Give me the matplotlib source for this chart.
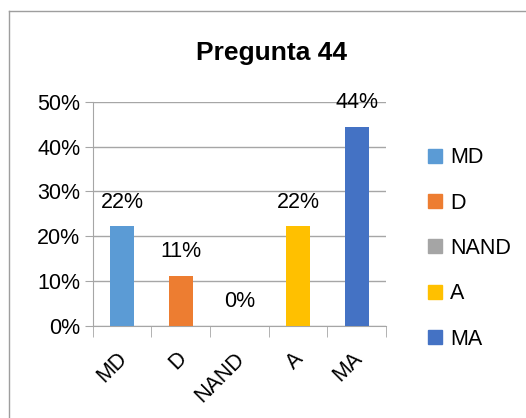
import matplotlib
matplotlib.use("Agg")
import matplotlib.pyplot as plt
from matplotlib.lines import Line2D
from matplotlib.ticker import PercentFormatter
from matplotlib.transforms import ScaledTranslation

CATEGORIES = ["MD", "D", "NAND", "A", "MA"]
VALUES = [22.2, 11.1, 0.0, 22.2, 44.4]
LABELS = ["22%", "11%", "0%", "22%", "44%"]
COLORS = ["#5B9BD5", "#ED7D31", "#A5A5A5", "#FFC000", "#4472C4"]

plt.rcParams["font.family"] = ["Liberation Sans", "DejaVu Sans"]

W, H = 526, 418
fig = plt.figure(figsize=(W / 100, H / 100), dpi=100)
ax = fig.add_axes([92.7 / W, 92 / H, (386 - 92.7) / W, (326 - 101.7) / H])

x = list(range(len(CATEGORIES)))
ax.bar(x, VALUES, width=0.41, color=COLORS, zorder=3)

for xi, v, lab in zip(x, VALUES, LABELS):
    ax.annotate(lab, (xi, v), xytext=(0, 17.5), textcoords="offset points",
                ha="center", va="center", fontsize=15.5, zorder=4)

ax.set_xlim(-0.5, 4.5)
ax.set_ylim(0, 50)
ax.set_yticks(range(0, 51, 10))
ax.yaxis.set_major_formatter(PercentFormatter(decimals=0))
ax.yaxis.grid(True, color="#A6A6A6", linewidth=1, zorder=0)
ax.tick_params(axis="y", length=6, color="#A6A6A6", labelsize=15.5, pad=3)

ax.set_xticks(x)
ax.set_xticklabels(CATEGORIES, rotation=45, ha="right", va="top",
                   rotation_mode="anchor", fontsize=15.5)
ax.tick_params(axis="x", which="major", length=0, pad=16)
shift = ScaledTranslation(-5 / 100, 0, fig.dpi_scale_trans)
for lbl in ax.get_xticklabels():
    lbl.set_transform(lbl.get_transform() + shift)
ax.set_xticks([i - 0.5 for i in range(len(CATEGORIES) + 1)], minor=True)
ax.tick_params(axis="x", which="minor", length=8, color="#A6A6A6")

for s in ["top", "right"]:
    ax.spines[s].set_visible(False)
for s in ["left", "bottom"]:
    ax.spines[s].set_color("#A6A6A6")

fig.text(272 / W, 1 - 53 / H, "Pregunta 44", ha="center", va="center",
         fontsize=19, fontweight="bold")

handles = [Line2D([], [], marker="s", linestyle="none", markersize=9.6,
                  markerfacecolor=c, markeredgecolor=c) for c in COLORS]
fig.legend(handles, CATEGORIES, loc="center left",
           bbox_to_anchor=(409 / W, 1 - 248.5 / H), frameon=False,
           fontsize=15.5, handlelength=0.6, handletextpad=0.4,
           labelspacing=1.13)

# chart border (only left and top edges are visible in the crop)
fig.add_artist(Line2D([9 / W, 9 / W], [0, 1 - 11 / H], color="#9E9E9E",
                      linewidth=1, transform=fig.transFigure))
fig.add_artist(Line2D([9 / W, 1], [1 - 11 / H, 1 - 11 / H], color="#9E9E9E",
                      linewidth=1, transform=fig.transFigure))

fig.savefig("out.png", dpi=100)
